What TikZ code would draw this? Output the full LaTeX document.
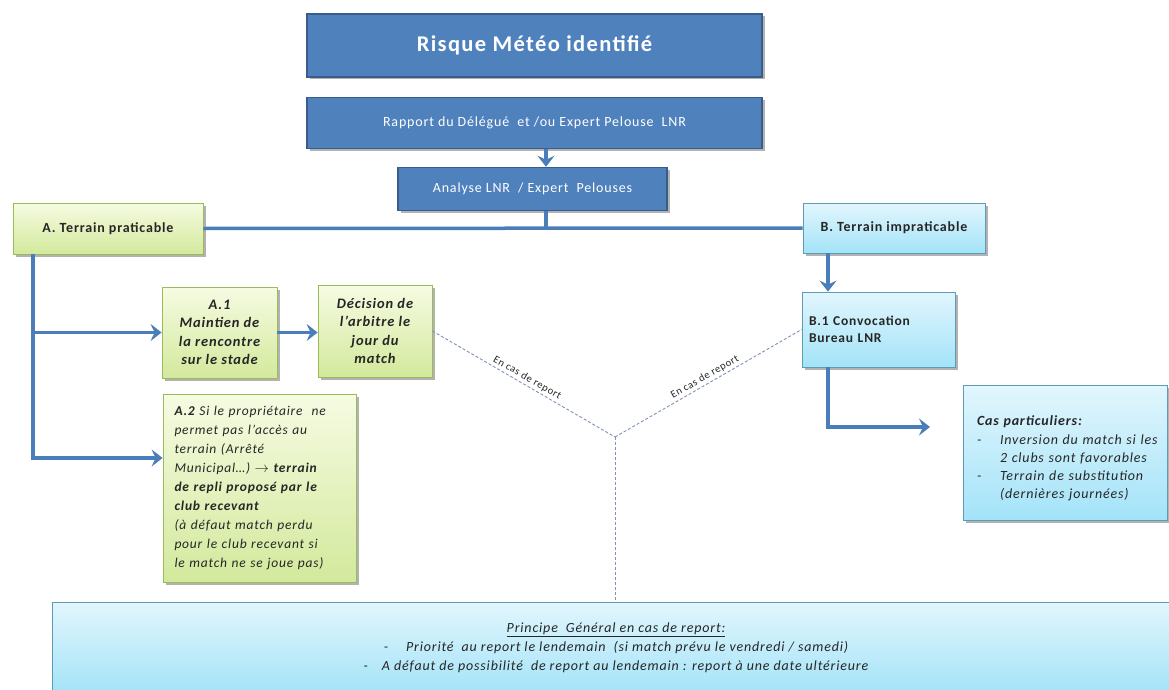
\documentclass[tikz,border=0pt]{standalone}
\usepackage{fontspec}
\setmainfont{Carlito}[LetterSpace=6]
\usetikzlibrary{arrows.meta,shadows}

\definecolor{deepblue}{HTML}{4F81BD}
\definecolor{deepline}{HTML}{385D8A}
\definecolor{linkblue}{HTML}{4A7EBB}
\definecolor{greentop}{HTML}{F6FBE2}
\definecolor{greenbot}{HTML}{D3E99C}
\definecolor{greenline}{HTML}{9BBB59}
\definecolor{skytop}{HTML}{E2F6FD}
\definecolor{skybot}{HTML}{A3E3F8}
\definecolor{skyline}{HTML}{5E9CB4}
\definecolor{dashgray}{HTML}{7F93B5}
\definecolor{inktext}{HTML}{262626}

\tikzset{
  boxshadow/.style={drop shadow={shadow xshift=2.5pt, shadow yshift=-2.5pt, fill=black, opacity=0.3}},
  darkbox/.style={draw=deepline, line width=1.5pt, fill=deepblue, text=white, boxshadow},
  greenbox/.style={draw=greenline, line width=0.8pt, top color=greentop, bottom color=greenbot,
    text=inktext, boxshadow},
  skybox/.style={draw=skyline, line width=0.8pt, top color=skytop, bottom color=skybot,
    text=inktext, boxshadow},
  link/.style={draw=linkblue, line width=3.5pt},
  arrowlink/.style={link, -{Stealth[length=11pt, width=17pt, inset=4pt]}},
  report/.style={draw=dashgray, line width=0.9pt, dash pattern=on 3pt off 2pt},
  lbl/.style={font=\fontsize{10.5}{12}\selectfont, text=inktext, inner sep=2pt}
}

\begin{document}
\begin{tikzpicture}[x=1pt, y=-1pt]

  \useasboundingbox[fill=white] (0,0) rectangle (1169,690);

  % branch points
  \coordinate (stem) at (546,0);
  \coordinate (spineA) at (33,0);
  \coordinate (spineB) at (828,0);
  \coordinate (casin) at (930,427);
  \coordinate (junc) at (615,437);

  % top of the chart
  \draw (534.5,45.5) node[darkbox, minimum width=455pt, minimum height=63pt,
        font=\fontsize{22.5}{26}\selectfont\bfseries] (title) {Risque Météo identifié};
  \draw (534.5,123) node[darkbox, minimum width=455pt, minimum height=51pt,
        font=\fontsize{14}{16}\selectfont] (rapport) {Rapport du Délégué\ \ et /ou Expert Pelouse\ \ LNR};
  \draw (532.5,189) node[darkbox, minimum width=269pt, minimum height=43pt,
        font=\fontsize{14}{16}\selectfont] (analyse) {Analyse LNR\ \ / Expert\ \ Pelouses};

  % the two cases
  \draw (108,228.5) node[greenbox, minimum width=190pt, minimum height=51pt,
        font=\fontsize{14}{16}\selectfont\bfseries] (pract) {A. Terrain praticable};
  \draw (894,228) node[skybox, minimum width=182pt, minimum height=50pt,
        font=\fontsize{14}{16}\selectfont\bfseries] (impract) {B. Terrain impraticable};

  % case A
  \draw (219.5,332.5) node[greenbox, minimum width=115pt, minimum height=91pt, align=center,
        font=\fontsize{14.5}{18.5}\selectfont\bfseries\itshape] (a1)
        {A.1\\Maintien de\\la rencontre\\sur le stade};
  \draw (375,331) node[greenbox, minimum width=114pt, minimum height=92pt, align=center,
        font=\fontsize{14.5}{18.5}\selectfont\bfseries\itshape] (decision)
        {Décision de\\l'arbitre le\\jour du\\match};
  \draw (259.5,488) node[greenbox, minimum width=193pt, minimum height=188pt,
        text width=170pt, align=left, font=\fontsize{13.5}{19}\selectfont\itshape] (a2)
        {\textbf{A.2} Si le propriétaire\ \ ne\\
         permet pas l'accès au\\
         terrain\ (Arrêté\\
         Municipal…) $\rightarrow$ \textbf{terrain}\\
         \textbf{de repli proposé par le}\\
         \textbf{club recevant}\\
         (à défaut match perdu\\
         pour le club recevant\ si\\
         le match ne se joue pas)};

  % case B
  \draw (878.5,329.5) node[skybox, minimum width=153pt, minimum height=75pt,
        text width=139pt, align=left, font=\fontsize{13.5}{17}\selectfont\bfseries] (b1)
        {B.1 Convocation\\Bureau LNR};
  \draw (1065,452.5) node[skybox, minimum width=204pt, minimum height=135pt,
        text width=176pt, align=left, font=\fontsize{14}{18.3}\selectfont\itshape] (cas)
        {\rule{0pt}{22pt}\textbf{Cas particuliers:}\\
         \mbox{\makebox[23pt][l]{-}Inversion du match si les}\\
         \hspace*{23pt}2 clubs sont favorables\\
         \makebox[23pt][l]{-}Terrain de substitution\\
         \hspace*{23pt}(dernières journées)};

  % general rule
  \draw (616,648) node[skybox, minimum width=1128pt, minimum height=92pt, align=center,
        font=\fontsize{14}{19}\selectfont\itshape] (general)
        {\underline{Principe\ \ Général en cas de report:}\\
         -\quad\ Priorité\ \ au report le lendemain\ \ (si match prévu le vendredi / samedi)\\
         -\quad A défaut de possibilité\ \ de report au lendemain : report à une date ultérieure};

  % blue connectors
  \draw[arrowlink] (rapport.south -| stem) -- (analyse.north -| stem);
  \draw[link] (analyse.south -| stem) -- (stem |- pract.east);
  \draw[link] (pract.east) -- (impract.west);
  \draw[arrowlink] (impract.south -| spineB) -- (b1.north -| spineB);
  \draw[arrowlink] (b1.south -| spineB) |- (casin);
  \draw[arrowlink] (pract.south -| spineA) |- (a1.west);
  \draw[arrowlink] (pract.south -| spineA) |- ([yshift=30pt]a2.west);
  \draw[arrowlink] (a1.east) -- (decision.west |- a1.east);

  % dashed report lines
  \draw[report] (decision.east) -- node[lbl, sloped, above] {En cas de report} (junc);
  \draw[report] (junc) -- node[lbl, sloped, above] {En cas de report} (b1.west);
  \draw[report] (junc) -- (general.north -| junc);

\end{tikzpicture}
\end{document}
